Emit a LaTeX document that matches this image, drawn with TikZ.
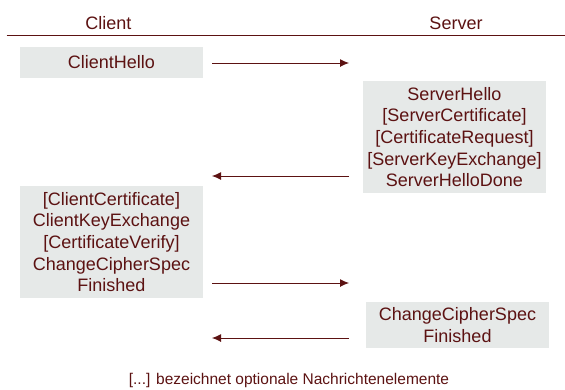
\documentclass[tikz,border=0pt]{standalone}
\usepackage{fontspec}
\setmainfont{Liberation Sans}
\usetikzlibrary{arrows.meta}
\definecolor{msgred}{HTML}{5C1212}
\definecolor{msgbox}{HTML}{E6E9E8}

\begin{document}
\begin{tikzpicture}
    [x=1pt,y=-1pt,
     every node/.style={text=msgred,font=\fontsize{18}{21.6}\selectfont,align=center,inner sep=0pt},
     msg/.style={fill=msgbox,minimum width=183pt},
     flow/.style={draw=msgred,line width=0.9pt,-{Latex[length=9pt,width=8pt]}}]
    \useasboundingbox (0,0) rectangle (565,389);
    % headers
    \node (cl) at (108.5,23) {Client};
    \node (sv) at (456,23) {Server};
    \draw[msgred,line width=0.9pt] (6.5,35) -- (565,35);
    % messages
    \node[msg,minimum height=31pt] (ch) at (111.5,62) {ClientHello};
    \node[msg,minimum height=112pt] (sh) at (454.5,137) {ServerHello\\{}[ServerCertificate]\\{}[CertificateRequest]\\{}[ServerKeyExchange]\\ServerHelloDone};
    \node[msg,minimum height=112pt] (ck) at (111.5,242) {{}[ClientCertificate]\\ClientKeyExchange\\{}[CertificateVerify]\\ChangeCipherSpec\\Finished};
    \node[msg,minimum height=46pt] (sf) at (457.5,325) {ChangeCipherSpec\\Finished};
    % arrow ends
    \coordinate (c1) at (212,63);
    \coordinate (s1) at (349,63);
    \coordinate (s2) at (349,176);
    \coordinate (c2) at (212,176);
    \coordinate (c3) at (212,283);
    \coordinate (s3) at (349,283);
    \coordinate (s4) at (349,338);
    \coordinate (c4) at (212,338);
    \draw[flow] (c1) -- (s1) ;
    \draw[flow] (s2) -- (c2) ;
    \draw[flow] (c3) -- (s3) ;
    \draw[flow] (s4) -- (c4) ;
    \node[font=\fontsize{15.5}{18}\selectfont] (note) at (289,380) {[...] bezeichnet optionale Nachrichtenelemente};
\end{tikzpicture}
\end{document}
